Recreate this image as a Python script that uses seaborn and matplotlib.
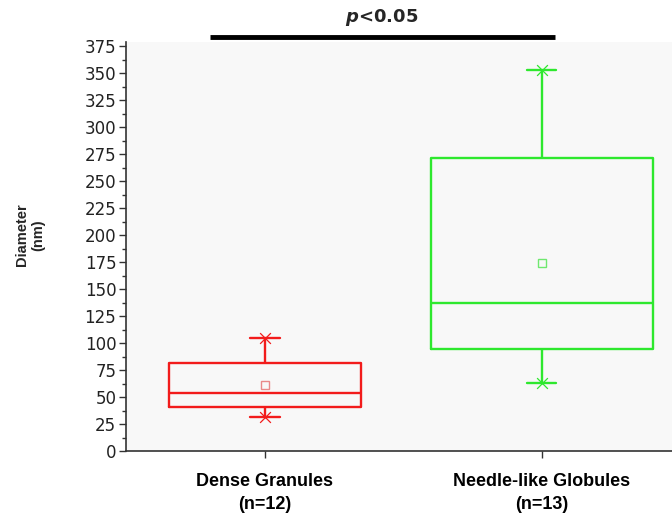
import matplotlib
matplotlib.use("Agg")
import matplotlib.pyplot as plt
import seaborn as sns
import pandas as pd
from matplotlib.ticker import MultipleLocator

# ---- data ----
categories = ["Dense Granules\n(n=12)", "Needle-like Globules\n(n=13)"]
dense_values = [31.5, 36, 40.7, 40.7, 47, 53.7, 53.7, 67, 81.5, 81.5, 94.1, 104.6]
needle_values = [63, 75, 88, 94.4, 110, 125, 137, 170, 215, 271, 275, 283.8, 352.8]
colors = ["#f21b1b", "#2ee82e"]
mean_colors = ["#e98a8a", "#6fe86f"]
box_widths = [0.69, 0.80]
y_ticks = list(range(0, 376, 25))
p_text = "$\\mathit{p}$<0.05"

df = pd.DataFrame({
    "group": [categories[0]] * len(dense_values) + [categories[1]] * len(needle_values),
    "value": dense_values + needle_values,
})

sns.set_style("ticks")
plt.rcParams["mathtext.fontset"] = "custom"
plt.rcParams["mathtext.it"] = "DejaVu Sans:italic:bold"
plt.rcParams["mathtext.rm"] = "DejaVu Sans:bold"

fig = plt.figure(figsize=(6.72, 5.18), dpi=100)
ax = fig.add_axes([0.1875, 0.1293, 0.8125, 0.79])
ax.set_facecolor("#f8f8f8")

for i, cat in enumerate(categories):
    sub = df[df["group"] == cat]
    sns.boxplot(
        data=sub, x="group", y="value", order=categories, ax=ax,
        fill=False, color=colors[i], linecolor=colors[i], width=box_widths[i],
        linewidth=1.7, whis=(0, 100), showfliers=False, showmeans=True,
        meanprops=dict(marker="s", markerfacecolor="none", markeredgecolor=mean_colors[i],
                       markersize=6, markeredgewidth=1.0),
        medianprops=dict(color=colors[i], linewidth=1.7),
        capwidths=0.105,
    )
    ext = pd.DataFrame({"group": [cat, cat], "value": [sub["value"].min(), sub["value"].max()]})
    sns.scatterplot(data=ext, x="group", y="value", marker="x", color=colors[i],
                    s=60, linewidth=0.9, ax=ax, zorder=5, legend=False)

ax.set_xlim(-0.502, 1.47)
ax.set_ylim(0, 379)
ax.set_yticks(y_ticks)
ax.yaxis.set_minor_locator(MultipleLocator(12.5))
ax.tick_params(axis="y", which="major", length=5, width=1, labelsize=12, colors="#333333", labelcolor="#222222", pad=2)
ax.tick_params(axis="y", which="minor", length=3, width=1, colors="#333333")
ax.tick_params(axis="x", which="major", length=5, width=1, colors="#333333", labelcolor="black", pad=11)
for lab in ax.get_xticklabels():
    lab.set_fontweight("bold")
    lab.set_fontsize(13)
    lab.set_family("Liberation Sans")
    lab.set_linespacing(1.45)
sns.despine(ax=ax, top=True, right=True)
for s in ["left", "bottom"]:
    ax.spines[s].set_color("#333333")
    ax.spines[s].set_linewidth(1.2)

ax.set_xlabel("")
ax.set_ylabel("Diameter\n(nm)", fontsize=10.5, fontweight="black", family="Liberation Sans",
              linespacing=1.25)
ax.yaxis.set_label_coords(-0.147, 0.528)

# significance bar
ax.plot([-0.2, 1.047], [383.5, 383.5], color="black", linewidth=3.5, clip_on=False,
        solid_capstyle="butt")
ax.text(0.42, 392, p_text, ha="center", va="bottom", fontsize=13, fontweight="bold",
        clip_on=False)

fig.savefig("out.png", dpi=100)
